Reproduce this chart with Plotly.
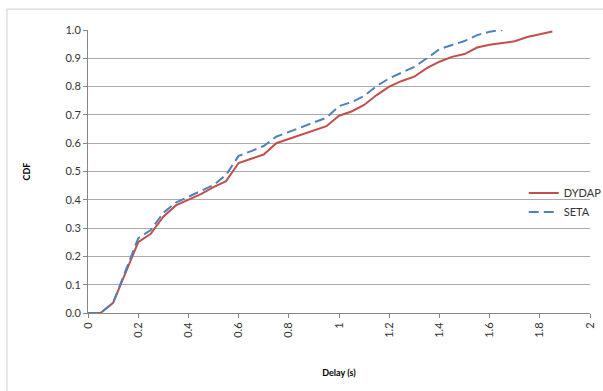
import plotly.graph_objects as go

# Delay samples (s) and cumulative fractions for each scheme
delay = [0.0, 0.05, 0.1, 0.15, 0.2, 0.25, 0.3, 0.35, 0.4, 0.45, 0.5, 0.55,
         0.6, 0.65, 0.7, 0.75, 0.8, 0.85, 0.9, 0.95, 1.0, 1.05, 1.1, 1.15,
         1.2, 1.25, 1.3, 1.35, 1.4, 1.45, 1.5, 1.55, 1.6, 1.65, 1.7, 1.75,
         1.8, 1.85]
dydap_cdf = [0.0, 0.0, 0.036, 0.14, 0.25, 0.28, 0.34, 0.38, 0.40, 0.42,
             0.445, 0.466, 0.53, 0.545, 0.56, 0.60, 0.615, 0.63, 0.645,
             0.66, 0.697, 0.712, 0.735, 0.77, 0.80, 0.82, 0.835, 0.865,
             0.888, 0.905, 0.915, 0.938, 0.948, 0.955, 0.96, 0.975, 0.985,
             0.995]

seta_delay = [0.0, 0.05, 0.1, 0.15, 0.2, 0.25, 0.3, 0.35, 0.4, 0.45, 0.5,
              0.55, 0.6, 0.65, 0.7, 0.75, 0.8, 0.85, 0.9, 0.95, 1.0, 1.05,
              1.1, 1.15, 1.2, 1.25, 1.3, 1.35, 1.4, 1.45, 1.5, 1.55, 1.6,
              1.65]
seta_cdf = [0.0, 0.0, 0.036, 0.15, 0.264, 0.293, 0.354, 0.39, 0.41, 0.43,
            0.452, 0.488, 0.555, 0.572, 0.59, 0.623, 0.64, 0.655, 0.673,
            0.69, 0.731, 0.745, 0.767, 0.802, 0.829, 0.85, 0.87, 0.9, 0.932,
            0.947, 0.961, 0.982, 0.994, 1.0]

x_ticks = [0, 0.2, 0.4, 0.6, 0.8, 1, 1.2, 1.4, 1.6, 1.8, 2]
x_tick_text = ["0", "0.2", "0.4", "0.6", "0.8", "1", "1.2", "1.4", "1.6", "1.8", "2"]
y_ticks = [0.0, 0.1, 0.2, 0.3, 0.4, 0.5, 0.6, 0.7, 0.8, 0.9, 1.0]
y_tick_text = ["0.0", "0.1", "0.2", "0.3", "0.4", "0.5", "0.6", "0.7", "0.8", "0.9", "1.0"]

FONT = "Lato, 'Open Sans', sans-serif"

fig = go.Figure()
fig.add_trace(go.Scatter(
    x=delay, y=dydap_cdf, name="DYDAP", mode="lines",
    line=dict(color="#C0504D", width=2),
))
fig.add_trace(go.Scatter(
    x=seta_delay, y=seta_cdf, name="SETA", mode="lines",
    line=dict(color="#4F81BD", width=2, dash="10px,5px"),
))

# light frame around the chart area (runs off the right and bottom edges)
fig.add_shape(type="rect", xref="paper", yref="paper",
              x0=-0.1614, x1=1.2, y0=1.074, y1=-0.6,
              line=dict(color="#d0d0d0", width=1), fillcolor="rgba(0,0,0,0)",
              layer="above")

fig.update_layout(
    width=603, height=391,
    margin=dict(l=88, r=13, t=30, b=78, autoexpand=False),
    paper_bgcolor="white", plot_bgcolor="white",
    font=dict(family=FONT, size=11, color="#333333"),
    showlegend=True,
    legend=dict(x=0.868, y=0.475, xanchor="left", yanchor="top",
                font=dict(size=11, color="#333333"),
                bgcolor="rgba(0,0,0,0)", borderwidth=0,
                tracegroupgap=0),
    xaxis=dict(
        range=[0, 2], tickvals=x_ticks, ticktext=x_tick_text,
        tickangle=-90, ticks="outside", ticklen=4, tickcolor="#868686",
        showline=True, linecolor="#868686", linewidth=1,
        showgrid=False, zeroline=False, automargin=False,
        tickfont=dict(size=11, color="#333333"),
        title=dict(text="<b>Delay (s)</b>", font=dict(size=9, color="#000000"),
                   standoff=32),
    ),
    yaxis=dict(
        range=[0, 1], tickvals=y_ticks, ticktext=y_tick_text,
        ticks="outside", ticklen=4, tickcolor="#868686",
        showline=True, linecolor="#868686", linewidth=1,
        showgrid=True, gridcolor="#aaaaaa", gridwidth=1,
        zeroline=False, automargin=False,
        tickfont=dict(size=11, color="#333333"),
        title=dict(text="<b>CDF</b>", font=dict(size=9, color="#000000"),
                   standoff=33),
    ),
)

fig.write_html("out.html")
